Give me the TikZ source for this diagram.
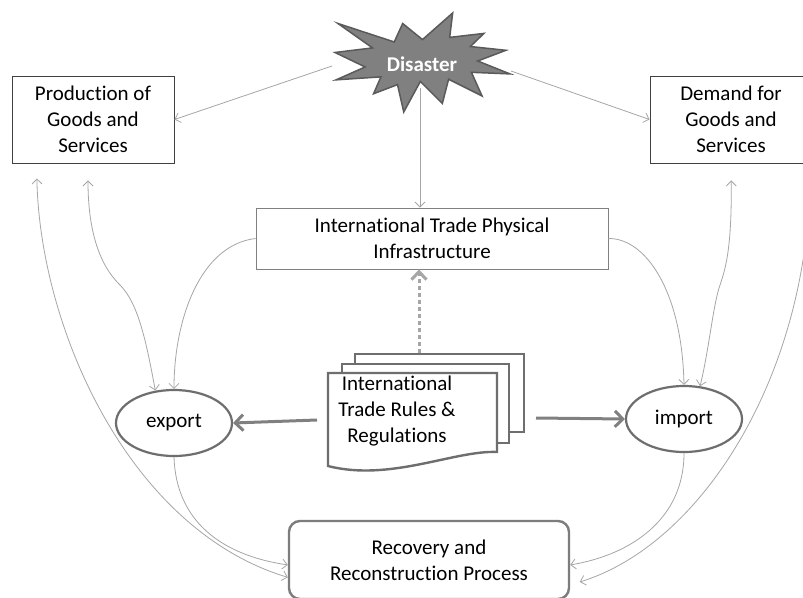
\documentclass[tikz,border=0pt]{standalone}
\usepackage{fontspec}
\setmainfont{Carlito}[Ligatures = NoCommon]
\usetikzlibrary{arrows.meta, shapes.geometric}
\definecolor{linegray}{HTML}{A6A6A6}
\definecolor{edgegray}{HTML}{6E6E6E}
\definecolor{stargray}{HTML}{808080}
\definecolor{stardark}{HTML}{5A5A5A}
\newcommand{\diagfont}{\fontsize{21}{26}\selectfont}
\tikzset{
	plainbox/.style = {draw = black!75, line width = 0.9pt, fill = white, align = center, font = \diagfont},
	oval/.style = {ellipse, draw = edgegray, line width = 2.2pt, fill = white, inner sep = 0pt, minimum width = 116pt, minimum height = 66pt, font = \diagfont},
	recbox/.style = {draw = edgegray!90, line width = 2.4pt, rounded corners = 11pt, fill = white, align = center, minimum width = 280pt, minimum height = 78pt, font = \diagfont},
	docline/.style = {draw = edgegray, line width = 2.4pt, fill = white},
	conn/.style = {draw = linegray, line width = 0.8pt},
	thickarrow/.style = {draw = stargray, line width = 3pt, -{Straight Barb[length = 8pt, width = 16pt]}},
	dotarrow/.style = {draw = linegray, line width = 3pt, dash pattern = on 4pt off 3pt, -{Straight Barb[length = 8pt, width = 15pt]}}
}
\begin{document}
\begin{tikzpicture} [x = 1pt, y = -1pt, > = {Straight Barb[length = 5pt, width = 10pt]}]
	\useasboundingbox [fill = white] (0,0) rectangle (803,597);
	% explosion
	\begin{scope} [shift = {(335,13)}, x = 0.8102pt, y = -0.4583pt]
	\draw [fill = stargray, draw = stardark, line width = 1.5pt] (108,58) -- (145.22,0) -- (141.55,53.25) -- (183.80,44.57) -- (167.02,73.15) -- (210.97,81.37) -- (176.07,104.75) -- (216,132.90) -- (168.37,129.42) -- (181.45,180.95) -- (140.20,144.57) -- (132.47,197.37) -- (105.32,149.35) -- (84.85,216) -- (77.15,156.27) -- (47.62,176.17) -- (56.67,139.37) -- (1.35,145.87) -- (37.22,117.75) -- (0,86.15) -- (46.27,76.17) -- (3.70,22.95) -- (73.12,63.20) -- (83.52,22.95) -- cycle;
	\end{scope}
	\node [font = \diagfont\bfseries, text = white] (dis) at (422,64) {Disaster};
	\node [plainbox, minimum width = 162pt, minimum height = 87pt] (prod) at (93,119.5) {Production of\\Goods and\\Services};
	\node [plainbox, minimum width = 162pt, minimum height = 87pt] (dem) at (731,119.5) {Demand for\\Goods and\\Services};
	\node [plainbox, draw = black!50, minimum width = 352pt, minimum height = 61pt] (infra) at (432,238.5) {International Trade Physical\\Infrastructure};
	\node [oval] (export) at (174,423) {export};
	\node [oval] (import) at (684,419) {import};
	\node [recbox] (rec) at (429,560) {Recovery and\\Reconstruction Process};
	% stack of rule sheets
	\draw [docline] (355,354) rectangle (524,432);
	\draw [docline] (342,364) rectangle (509,443);
	\draw [docline] (328,373) -- (497,373) -- (497,452) .. controls (455,450) and (390,482) .. (328,466) -- cycle;
	\node [align = center, font = \diagfont] (rules) at (397,411) {International\\Trade Rules \&\\Regulations};
	\coordinate (docL) at (317,420);
	\coordinate (docR) at (536,418);
	\coordinate (docT) at (419,353);
	\coordinate (disL) at (332,66);
	\coordinate (disR) at (511,71);
	\coordinate (disB) at (420,88);
	\draw [conn, ->] (disL) -- (prod.east);
	\draw [conn, ->] (disR) -- (dem.west);
	\draw [conn, ->] (disB) -- (disB |- infra.north);
	\draw [thickarrow] (docL) -- (export.east);
	\draw [thickarrow] (docR) -- (import.west);
	\draw [dotarrow] (docT) -- (docT |- infra.south);
	\draw [conn, ->] (infra.west) .. controls (200,245) and (174,320) .. (export.north);
	\draw [conn, <->, shorten <= 17pt] ([xshift = -5pt] prod.south) .. controls (88,250) and (110,275) .. (120,285) .. controls (138,303) and (146,340) .. (export.120);
	\draw [conn, <->, shorten <= 15pt] ([xshift = 25pt] prod.south west) .. controls (40,330) and (130,530) .. (rec.187);
	\draw [conn, ->] (export.south) .. controls (176,520) and (220,555) .. (rec.182);
	\draw [conn, ->] (infra.east) .. controls (645,238) and (682,290) .. (import.north);
	\draw [conn, <->, shorten <= 17pt] (dem.south) .. controls (732,250) and (725,270) .. (720,285) .. controls (713,305) and (709,350) .. (import.64);
	\draw [conn, ->] (import.south) .. controls (684,520) and (630,555) .. (rec.358);
	\draw [conn, <->, shorten <= 17pt, shorten >= 10pt] ([xshift = -2pt] dem.south east) .. controls (806,380) and (700,545) .. (rec.350);
\end{tikzpicture}
\end{document}
